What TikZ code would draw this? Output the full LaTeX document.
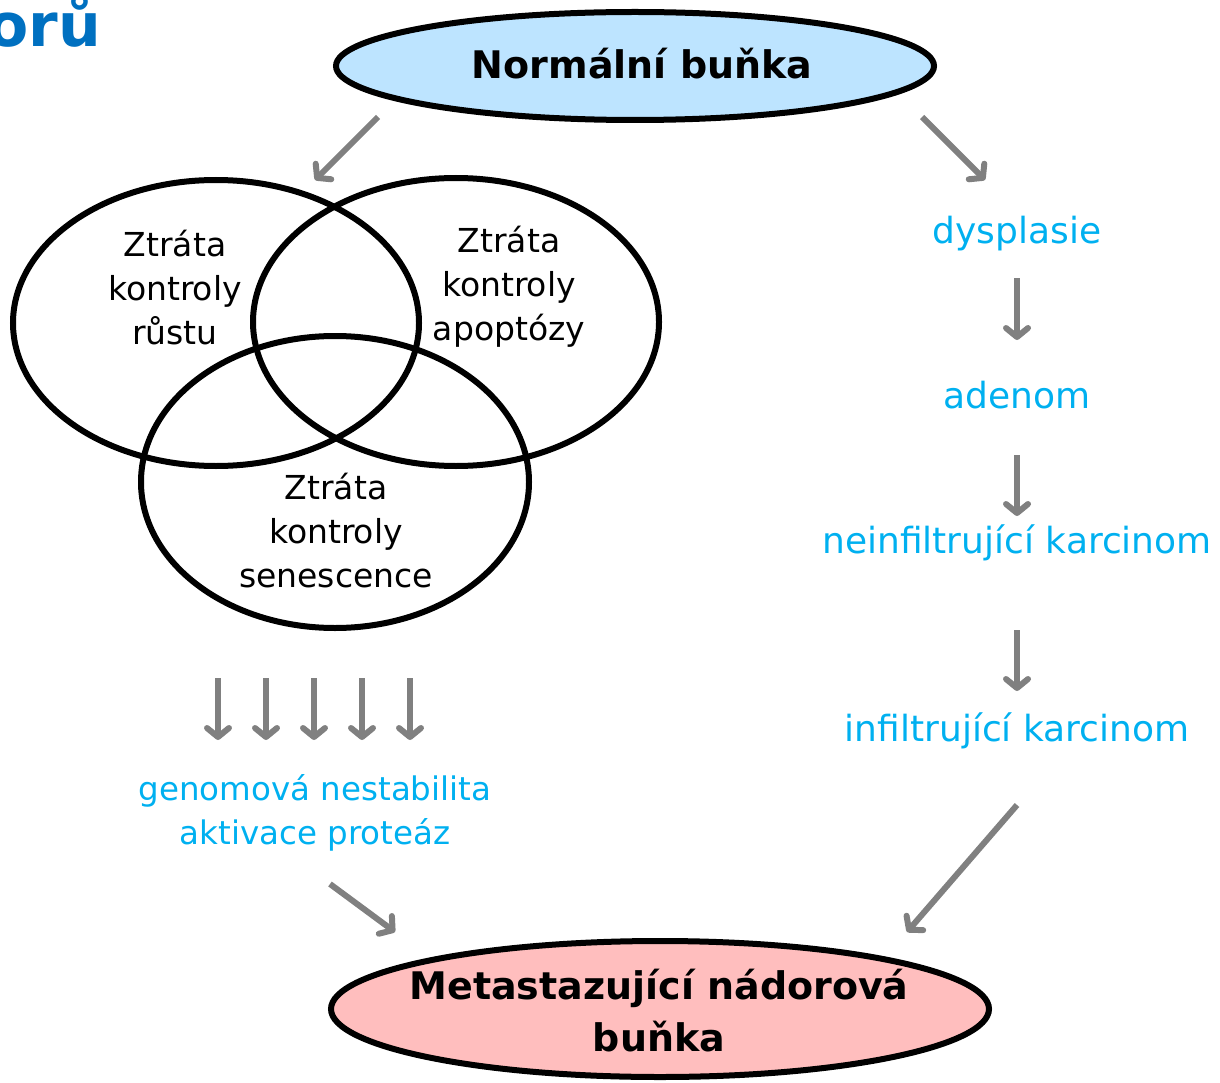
\documentclass[tikz,border=0pt]{standalone}
\usepackage{fontspec}
\setmainfont{DejaVu Sans}
\usetikzlibrary{arrows.meta}
\definecolor{titleblue}{RGB}{0,112,192}
\definecolor{lightblue}{RGB}{0,176,240}
\definecolor{topfill}{RGB}{189,228,255}
\definecolor{botfill}{RGB}{255,190,190}
\definecolor{arrgray}{RGB}{128,128,128}
\tikzset{
  garrow/.style={draw=arrgray, line width=6pt, -{Straight Barb[length=9pt,width=22pt,line cap=round,line join=round]}},
  venn/.style={draw=black, line width=6pt},
  blacktxt/.style={align=center, font=\fontsize{33}{44}\selectfont, inner sep=0pt},
  bluetxt/.style={text=lightblue, align=center, font=\fontsize{36}{44}\selectfont, inner sep=0pt},
  boldtxt/.style={align=center, font=\fontsize{38}{52}\selectfont\bfseries, inner sep=0pt}
}
\begin{document}
\begin{tikzpicture}[x=1pt,y=-1pt]
\useasboundingbox (0,0) rectangle (1220,1083);
% title fragment
\node[anchor=base east, text=titleblue, font=\fontsize{60}{64}\selectfont\bfseries, inner sep=0pt] (ttl) at (101,47) {orů};
% top ellipse
\draw[venn, fill=topfill] (635,66) ellipse [x radius=299, y radius=54];
\node[boldtxt] (normal) at (642,64) {Normální buňka};
% bottom ellipse
\draw[venn, fill=botfill] (660,1009) ellipse [x radius=329, y radius=68];
\node[boldtxt] (meta) at (659,1011) {Metastazující nádorová\\buňka};
% venn
\draw[venn] (216,323) ellipse [x radius=203, y radius=143];
\draw[venn] (456,322) ellipse [x radius=203, y radius=144];
\draw[venn] (335,482) ellipse [x radius=194, y radius=146];
\node[blacktxt] (rust) at (175,288) {Ztráta\\kontroly\\růstu};
\node[blacktxt] (apo) at (509,287) {Ztráta\\kontroly\\apoptózy};
\node[blacktxt] (sen) at (336,531) {Ztráta\\kontroly\\senescence};
% right chain
\node[bluetxt] (dys) at (1017,234) {dysplasie};
\node[bluetxt] (ade) at (1017,395) {adenom};
\node[bluetxt] (nein) at (1017,543) {neinfiltrující karcinom};
\node[bluetxt] (inf) at (1017,731) {infiltrující karcinom};
\node[bluetxt, font=\fontsize{32.5}{44}\selectfont] (gen) at (315,813) {genomová nestabilita\\aktivace proteáz};
% arrow coordinates
\coordinate (a1s) at (378,117); \coordinate (a1e) at (315,180);
\coordinate (a2s) at (922,117); \coordinate (a2e) at (985,180);
\coordinate (a3s) at (1017,278); \coordinate (a3e) at (1017,340);
\coordinate (a4s) at (1017,455); \coordinate (a4e) at (1017,516);
\coordinate (a5s) at (1017,630); \coordinate (a5e) at (1017,691);
\coordinate (a6s) at (1017,805); \coordinate (a6e) at (907,932);
\coordinate (a7s) at (330,884); \coordinate (a7e) at (395,932);
\draw[garrow] (a1s) -- (a1e);
\draw[garrow] (a2s) -- (a2e);
\draw[garrow] (a3s) -- (a3e);
\draw[garrow] (a4s) -- (a4e);
\draw[garrow] (a5s) -- (a5e);
\draw[garrow] (a6s) -- (a6e);
\draw[garrow] (a7s) -- (a7e);
\foreach \i/\x in {1/218,2/266,3/314,4/362,5/410}{
  \coordinate (d\i s) at (\x,678); \coordinate (d\i e) at (\x,740);
  \draw[garrow] (d\i s) -- (d\i e);
}
\end{tikzpicture}
\end{document}
